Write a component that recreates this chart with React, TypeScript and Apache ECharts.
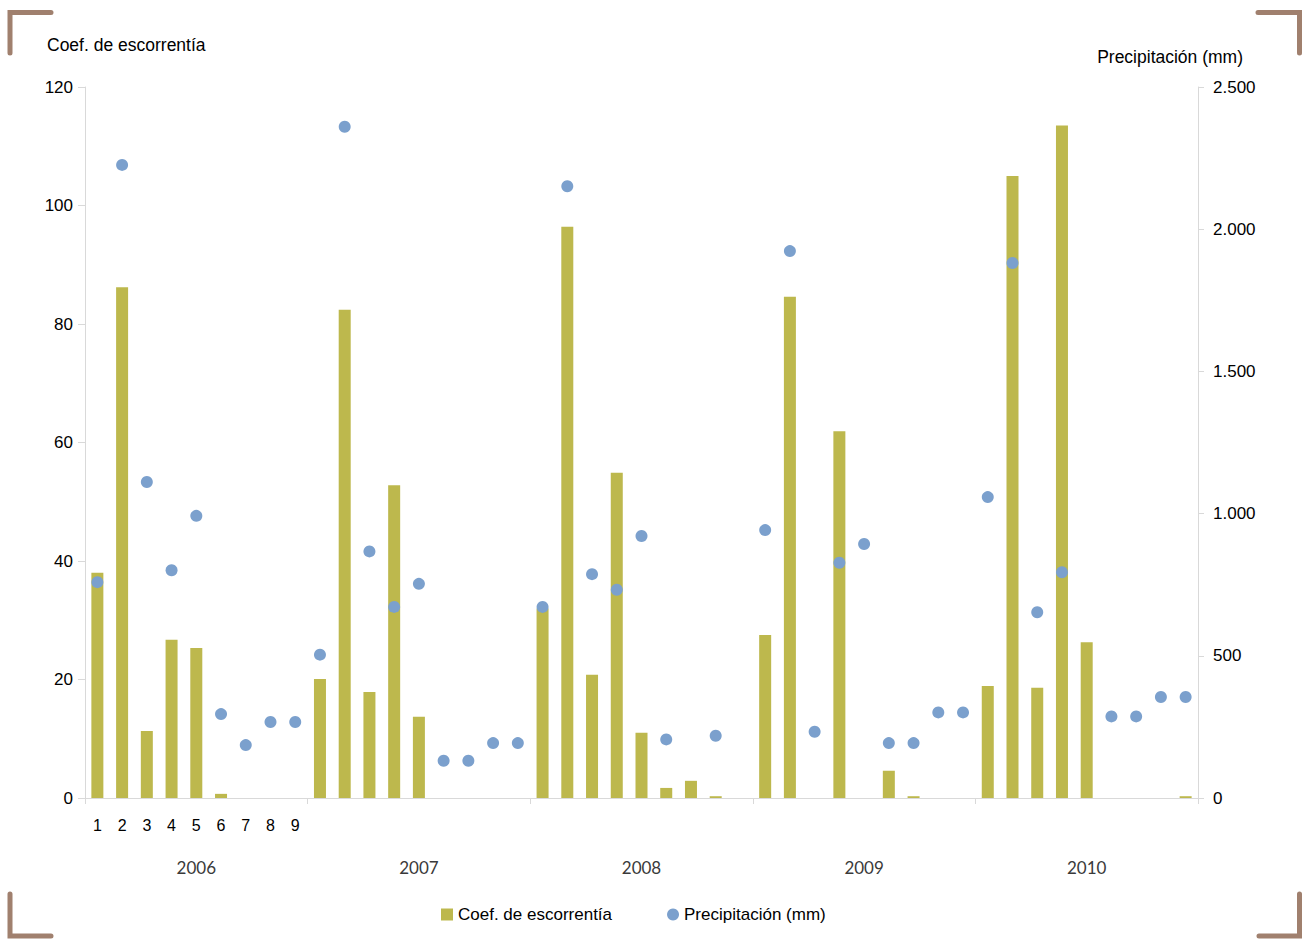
import React, { useEffect, useRef } from 'react';
import * as echarts from 'echarts';

// meses (1-9) de cada año
const years = ['2006', '2007', '2008', '2009', '2010'];
const months = ['1', '2', '3', '4', '5', '6', '7', '8', '9'];

// coeficiente de escorrentía (eje izquierdo)
const coefEscorrentia = [
  38.0, 86.2, 11.3, 26.7, 25.3, 0.7, 0, 0, 0,
  20.1, 82.4, 17.9, 52.8, 13.7, 0, 0, 0, 0,
  32.0, 96.4, 20.8, 54.9, 11.0, 1.7, 2.9, 0.3, 0,
  27.5, 84.6, 0, 61.9, 0, 4.6, 0.3, 0, 0,
  18.9, 105.0, 18.6, 113.5, 26.3, 0, 0, 0, 0.3,
];

// precipitación en mm (eje derecho), null = sin dato
const precipitacion = [
  759, 2226, 1111, 801, 992, 295, 186, 267, 267,
  504, 2360, 867, 672, 753, 131, 131, 193, 193,
  672, 2151, 787, 732, 921, 206, null, 219, null,
  942, 1923, 233, 827, 893, 193, 193, 301, 301,
  1058, 1881, 653, 794, null, 287, 287, 355, 355,
];

const leftTicks = { min: 0, max: 120, interval: 20 };
const rightTicks = { min: 0, max: 2500, interval: 500 };

const OLIVE = '#bdb84d';
const BLUE = '#7ba0cd';
const AXIS_GREY = '#d9d9d9';
const BRACKET = '#a0806e';
const FONT = '"Liberation Sans", Arial, sans-serif';

// una categoría por mes; solo se rotulan los meses del primer año
const categories = years.flatMap((y) => months.map((m) => `${y}-${m}`));

const App = () => {
  const chartRef = useRef(null);

  useEffect(() => {
    document.body.style.margin = '0';
    const chart = echarts.init(chartRef.current, null, { renderer: 'svg' });

    const bracket = (points) => ({
      type: 'polyline',
      shape: { points },
      style: { stroke: BRACKET, lineWidth: 5, lineCap: 'round', lineJoin: 'miter', fill: null },
      silent: true,
    });

    const option = {
      animation: false,
      backgroundColor: '#ffffff',
      textStyle: { fontFamily: FONT },
      grid: { left: 85, right: 109, top: 87, bottom: 142, containLabel: false },
      legend: {
        left: 441,
        top: 906,
        padding: 0,
        itemWidth: 12,
        itemHeight: 12,
        itemGap: 55,
        textStyle: { fontFamily: FONT, fontSize: 17, color: '#000' },
        data: [
          { name: 'Coef. de escorrentía', icon: 'rect' },
          { name: 'Precipitación (mm)', icon: 'circle' },
        ],
      },
      xAxis: [
        {
          type: 'category',
          data: categories,
          position: 'bottom',
          axisLine: { show: true, lineStyle: { color: AXIS_GREY, width: 1 } },
          axisTick: { show: false },
          axisLabel: {
            interval: 0,
            margin: 19,
            fontSize: 16,
            color: '#000',
            fontFamily: FONT,
            formatter: (v: string, i: number) => (i < months.length ? months[i] : ''),
          },
          splitLine: { show: false },
        },
        {
          type: 'category',
          data: years,
          position: 'bottom',
          axisLine: { show: false },
          axisTick: { show: true, length: 6, lineStyle: { color: AXIS_GREY } },
          axisLabel: {
            margin: 61,
            fontSize: 17,
            color: '#3a3a3a',
            fontFamily: 'Lato, "Open Sans", sans-serif',
          },
          splitLine: { show: false },
        },
      ],
      yAxis: [
        {
          type: 'value',
          position: 'left',
          ...leftTicks,
          axisLine: { show: true, lineStyle: { color: AXIS_GREY } },
          axisTick: { show: true, length: 7, lineStyle: { color: AXIS_GREY } },
          axisLabel: { margin: 12, fontSize: 17, color: '#000', fontFamily: FONT },
          splitLine: { show: false },
        },
        {
          type: 'value',
          position: 'right',
          ...rightTicks,
          axisLine: { show: true, lineStyle: { color: AXIS_GREY } },
          axisTick: { show: true, length: 6, lineStyle: { color: AXIS_GREY } },
          axisLabel: {
            margin: 15,
            fontSize: 17,
            color: '#000',
            fontFamily: FONT,
            formatter: (v: number) => String(v).replace(/\B(?=(\d{3})+(?!\d))/g, '.'),
          },
          splitLine: { show: false },
        },
      ],
      series: [
        {
          name: 'Coef. de escorrentía',
          type: 'bar',
          xAxisIndex: 0,
          yAxisIndex: 0,
          data: coefEscorrentia,
          barWidth: 12,
          itemStyle: { color: OLIVE },
        },
        {
          name: 'Precipitación (mm)',
          type: 'scatter',
          xAxisIndex: 0,
          yAxisIndex: 1,
          data: precipitacion.map((v) => (v === null ? '-' : v)),
          symbol: 'circle',
          symbolSize: 12,
          itemStyle: { color: BLUE, opacity: 1 },
        },
      ],
      graphic: [
        {
          type: 'text',
          left: 47,
          top: 36,
          style: { text: 'Coef. de escorrentía', font: `17.5px ${FONT}`, fill: '#000' },
        },
        {
          type: 'text',
          right: 64,
          top: 48,
          style: { text: 'Precipitación (mm)', font: `17.5px ${FONT}`, fill: '#000' },
        },
        bracket([[10, 53], [10, 12.5], [51, 12.5]]),
        bracket([[1258, 12.5], [1299.5, 12.5], [1299.5, 53]]),
        bracket([[10, 894], [10, 936], [51, 936]]),
        bracket([[1259, 936], [1299.5, 936], [1299.5, 894]]),
      ],
    };

    chart.setOption(option);

    return () => {
      chart.dispose();
    };
  }, []);

  return <div ref={chartRef} style={{ width: '1307px', height: '940px' }} />;
};

export default App;
